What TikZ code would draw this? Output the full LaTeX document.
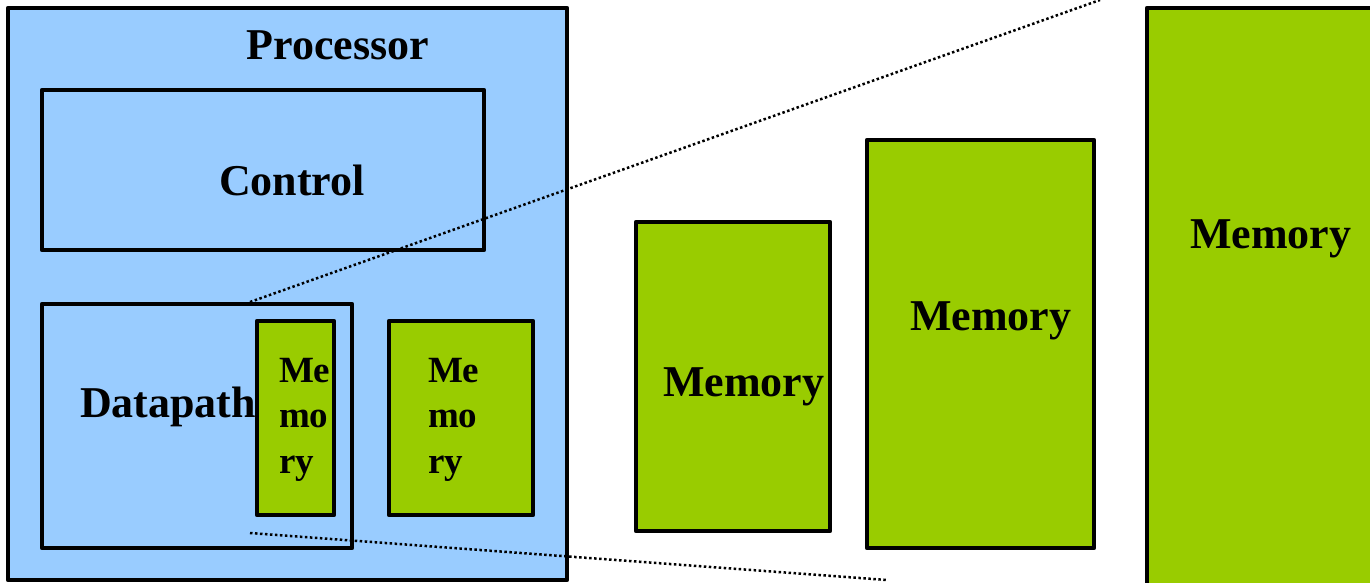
\documentclass[tikz,border=0pt]{standalone}
\usepackage{fontspec}
\setmainfont{Liberation Serif}
\begin{document}
\begin{tikzpicture}[x=1pt,y=-1pt,
  box/.style={draw=black,line width=4.6pt,line join=round,inner sep=0pt,outer sep=0pt},
  cpu/.style={box,fill=cpublue},
  mem/.style={box,fill=memgreen},
  lbl/.style={font=\bfseries\fontsize{44}{45.5}\selectfont,inner sep=0pt,outer sep=0pt},
  smalllbl/.style={font=\bfseries\fontsize{37}{45.5}\selectfont,inner sep=0pt,outer sep=0pt,align=left,anchor=north west},
  zoomline/.style={line width=2.5pt,dash pattern=on 2.5pt off 2.5pt}]
\definecolor{cpublue}{HTML}{99CCFF}
\definecolor{memgreen}{HTML}{99CC00}
\useasboundingbox (0,0) rectangle (1370,582);
\clip (0,0) rectangle (1370,582);

% processor with its parts
\node[cpu,anchor=north west,minimum width=559pt,minimum height=572pt] (proc) at (8,8) {};
\node[lbl,anchor=base] (proclbl) at (338,59) {Processor};
\node[cpu,anchor=north west,minimum width=442pt,minimum height=160pt] (ctrl) at (42,90) {};
\node[lbl,anchor=base] (ctrllbl) at (292,195) {Control};
\node[cpu,anchor=north west,minimum width=310pt,minimum height=244pt] (dp) at (42,304) {};
\node[mem,anchor=north west,minimum width=77pt,minimum height=194pt] (m1) at (257,321) {};
\node[lbl,anchor=base west] (dplbl) at (80,417) {Datapath};
\node[smalllbl] (m1lbl) at (279,358) {Me\\mo\\ry};
\node[mem,anchor=north west,minimum width=144pt,minimum height=194pt] (m2) at (389,321) {};
\node[smalllbl] (m2lbl) at (428,358) {Me\\mo\\ry};

% larger memories
\node[mem,anchor=north west,minimum width=194pt,minimum height=309pt] (m3) at (636,222) {};
\node[lbl,anchor=base west] (m3lbl) at (663,396) {Memory};
\node[mem,anchor=north west,minimum width=227pt,minimum height=408pt] (m4) at (867,140) {};
\node[lbl,anchor=base west] (m4lbl) at (910,330) {Memory};
\node[mem,anchor=north west,minimum width=250pt,minimum height=600pt] (m5) at (1147,8) {};
\node[lbl,anchor=base west] (m5lbl) at (1190,248) {Memory};

% dotted zoom lines
\coordinate (zt0) at (250,302);
\coordinate (zt1) at (1100,0);
\coordinate (zb0) at (250,533);
\coordinate (zb1) at (887,580);
\draw[zoomline] (zt0) -- (zt1);
\draw[zoomline] (zb0) -- (zb1);
\end{tikzpicture}
\end{document}
